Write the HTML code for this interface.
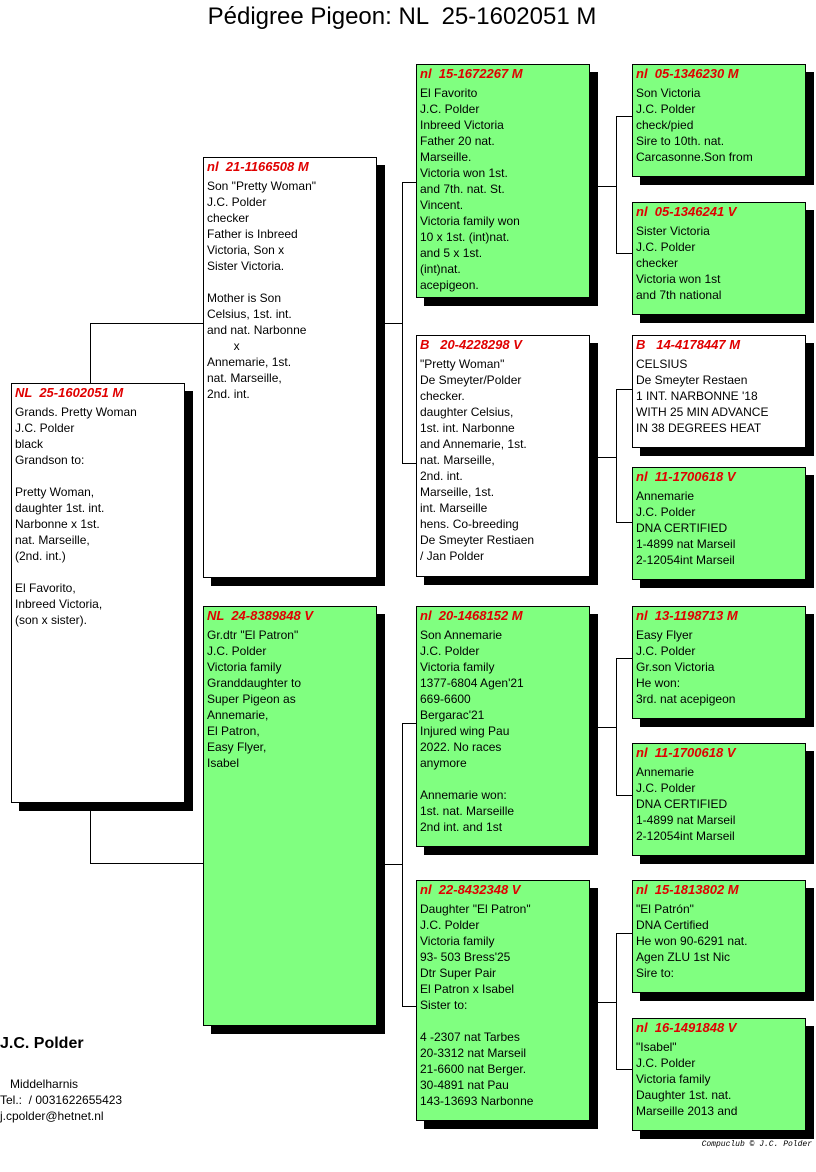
<!DOCTYPE html>
<html><head><meta charset="utf-8"><style>
body{margin:0;width:816px;height:1172px;background:#fff;position:relative;font-family:"Liberation Sans",Arial,sans-serif;overflow:hidden}
.b{position:absolute;border:1px solid #000;box-sizing:border-box;box-shadow:8px 8px 0 #000;font-size:12px;color:#000;padding:0 0 0 3px}
.g{background:#80ff80}.w{background:#fff}
.h{color:#e00000;font-weight:bold;font-style:italic;font-size:13px;line-height:17px;white-space:pre}
.t{line-height:16px;white-space:pre;margin-top:3px}
.l{position:absolute;background:#000}
.title{position:absolute;left:0;width:804px;top:3px;text-align:center;font-size:24px;white-space:pre}
</style></head><body>
<div class="title">Pédigree Pigeon: NL  25-1602051 M</div>

<!-- connectors -->
<div class="l" style="left:90px;top:323px;width:1px;height:60px"></div>
<div class="l" style="left:90px;top:323px;width:113px;height:1px"></div>
<div class="l" style="left:90px;top:802px;width:1px;height:62px"></div>
<div class="l" style="left:90px;top:863px;width:113px;height:1px"></div>

<div class="l" style="left:384px;top:323px;width:18px;height:1px"></div>
<div class="l" style="left:402px;top:182px;width:1px;height:282px"></div>
<div class="l" style="left:402px;top:182px;width:14px;height:1px"></div>
<div class="l" style="left:402px;top:463px;width:14px;height:1px"></div>

<div class="l" style="left:384px;top:864px;width:18px;height:1px"></div>
<div class="l" style="left:402px;top:723px;width:1px;height:283px"></div>
<div class="l" style="left:402px;top:723px;width:14px;height:1px"></div>
<div class="l" style="left:402px;top:1006px;width:14px;height:1px"></div>

<div class="l" style="left:597px;top:186px;width:19px;height:1px"></div>
<div class="l" style="left:616px;top:116px;width:1px;height:138px"></div>
<div class="l" style="left:616px;top:116px;width:16px;height:1px"></div>
<div class="l" style="left:616px;top:253px;width:16px;height:1px"></div>

<div class="l" style="left:597px;top:457px;width:19px;height:1px"></div>
<div class="l" style="left:616px;top:389px;width:1px;height:134px"></div>
<div class="l" style="left:616px;top:389px;width:16px;height:1px"></div>
<div class="l" style="left:616px;top:522px;width:16px;height:1px"></div>

<div class="l" style="left:597px;top:727px;width:19px;height:1px"></div>
<div class="l" style="left:616px;top:658px;width:1px;height:138px"></div>
<div class="l" style="left:616px;top:658px;width:16px;height:1px"></div>
<div class="l" style="left:616px;top:795px;width:16px;height:1px"></div>

<div class="l" style="left:597px;top:1002px;width:19px;height:1px"></div>
<div class="l" style="left:616px;top:933px;width:1px;height:137px"></div>
<div class="l" style="left:616px;top:933px;width:16px;height:1px"></div>
<div class="l" style="left:616px;top:1069px;width:16px;height:1px"></div>

<!-- gen1 -->
<div class="b w" style="left:11px;top:383px;width:174px;height:420px"><div class="h">NL  25-1602051 M</div><div class="t">Grands. Pretty Woman
J.C. Polder
black
Grandson to:

Pretty Woman,
daughter 1st. int.
Narbonne x 1st.
nat. Marseille,
(2nd. int.)

El Favorito,
Inbreed Victoria,
(son x sister).</div></div>

<!-- gen2 -->
<div class="b w" style="left:203px;top:157px;width:174px;height:421px"><div class="h">nl  21-1166508 M</div><div class="t">Son "Pretty Woman"
J.C. Polder
checker
Father is Inbreed
Victoria, Son x
Sister Victoria.

Mother is Son
Celsius, 1st. int.
and nat. Narbonne
        x
Annemarie, 1st.
nat. Marseille,
2nd. int.</div></div>
<div class="b g" style="left:203px;top:606px;width:174px;height:420px"><div class="h">NL  24-8389848 V</div><div class="t">Gr.dtr "El Patron"
J.C. Polder
Victoria family
Granddaughter to
Super Pigeon as
Annemarie,
El Patron,
Easy Flyer,
Isabel</div></div>

<!-- gen3 -->
<div class="b g" style="left:416px;top:64px;width:174px;height:234px"><div class="h">nl  15-1672267 M</div><div class="t">El Favorito
J.C. Polder
Inbreed Victoria
Father 20 nat.
Marseille.
Victoria won 1st.
and 7th. nat. St.
Vincent.
Victoria family won
10 x 1st. (int)nat.
and 5 x 1st.
(int)nat.
acepigeon.</div></div>
<div class="b w" style="left:416px;top:335px;width:174px;height:242px"><div class="h">B   20-4228298 V</div><div class="t">"Pretty Woman"
De Smeyter/Polder
checker.
daughter Celsius,
1st. int. Narbonne
and Annemarie, 1st.
nat. Marseille,
2nd. int.
Marseille, 1st.
int. Marseille
hens. Co-breeding
De Smeyter Restiaen
/ Jan Polder</div></div>
<div class="b g" style="left:416px;top:606px;width:174px;height:241px"><div class="h">nl  20-1468152 M</div><div class="t">Son Annemarie
J.C. Polder
Victoria family
1377-6804 Agen'21
669-6600
Bergarac'21
Injured wing Pau
2022. No races
anymore

Annemarie won:
1st. nat. Marseille
2nd int. and 1st</div></div>
<div class="b g" style="left:416px;top:880px;width:174px;height:241px"><div class="h">nl  22-8432348 V</div><div class="t">Daughter "El Patron"
J.C. Polder
Victoria family
93- 503 Bress'25
Dtr Super Pair
El Patron x Isabel
Sister to:

4 -2307 nat Tarbes
20-3312 nat Marseil
21-6600 nat Berger.
30-4891 nat Pau
143-13693 Narbonne</div></div>

<!-- gen4 -->
<div class="b g" style="left:632px;top:64px;width:174px;height:113px"><div class="h">nl  05-1346230 M</div><div class="t">Son Victoria
J.C. Polder
check/pied
Sire to 10th. nat.
Carcasonne.Son from</div></div>
<div class="b g" style="left:632px;top:202px;width:174px;height:113px"><div class="h">nl  05-1346241 V</div><div class="t">Sister Victoria
J.C. Polder
checker
Victoria won 1st
and 7th national</div></div>
<div class="b w" style="left:632px;top:335px;width:174px;height:113px"><div class="h">B   14-4178447 M</div><div class="t">CELSIUS
De Smeyter Restaen
1 INT. NARBONNE '18
WITH 25 MIN ADVANCE
IN 38 DEGREES HEAT</div></div>
<div class="b g" style="left:632px;top:467px;width:174px;height:113px"><div class="h">nl  11-1700618 V</div><div class="t">Annemarie
J.C. Polder
DNA CERTIFIED
1-4899 nat Marseil
2-12054int Marseil</div></div>
<div class="b g" style="left:632px;top:606px;width:174px;height:113px"><div class="h">nl  13-1198713 M</div><div class="t">Easy Flyer
J.C. Polder
Gr.son Victoria
He won:
3rd. nat acepigeon</div></div>
<div class="b g" style="left:632px;top:743px;width:174px;height:113px"><div class="h">nl  11-1700618 V</div><div class="t">Annemarie
J.C. Polder
DNA CERTIFIED
1-4899 nat Marseil
2-12054int Marseil</div></div>
<div class="b g" style="left:632px;top:880px;width:174px;height:113px"><div class="h">nl  15-1813802 M</div><div class="t">"El Patrón"
DNA Certified
He won 90-6291 nat.
Agen ZLU 1st Nic
Sire to:</div></div>
<div class="b g" style="left:632px;top:1018px;width:174px;height:113px"><div class="h">nl  16-1491848 V</div><div class="t">"Isabel"
J.C. Polder
Victoria family
Daughter 1st. nat.
Marseille 2013 and</div></div>

<div style="position:absolute;left:0;top:1035px;font-size:16px;font-weight:bold">J.C. Polder</div>
<div style="position:absolute;left:0;top:1076px;font-size:12px;line-height:16px;white-space:pre">   Middelharnis
Tel.:  / 0031622655423
j.cpolder@hetnet.nl</div>
<div style="position:absolute;right:4px;top:1140px;font-family:'Liberation Mono',monospace;font-style:italic;font-size:8px">Compuclub © J.C. Polder</div>
</body></html>
